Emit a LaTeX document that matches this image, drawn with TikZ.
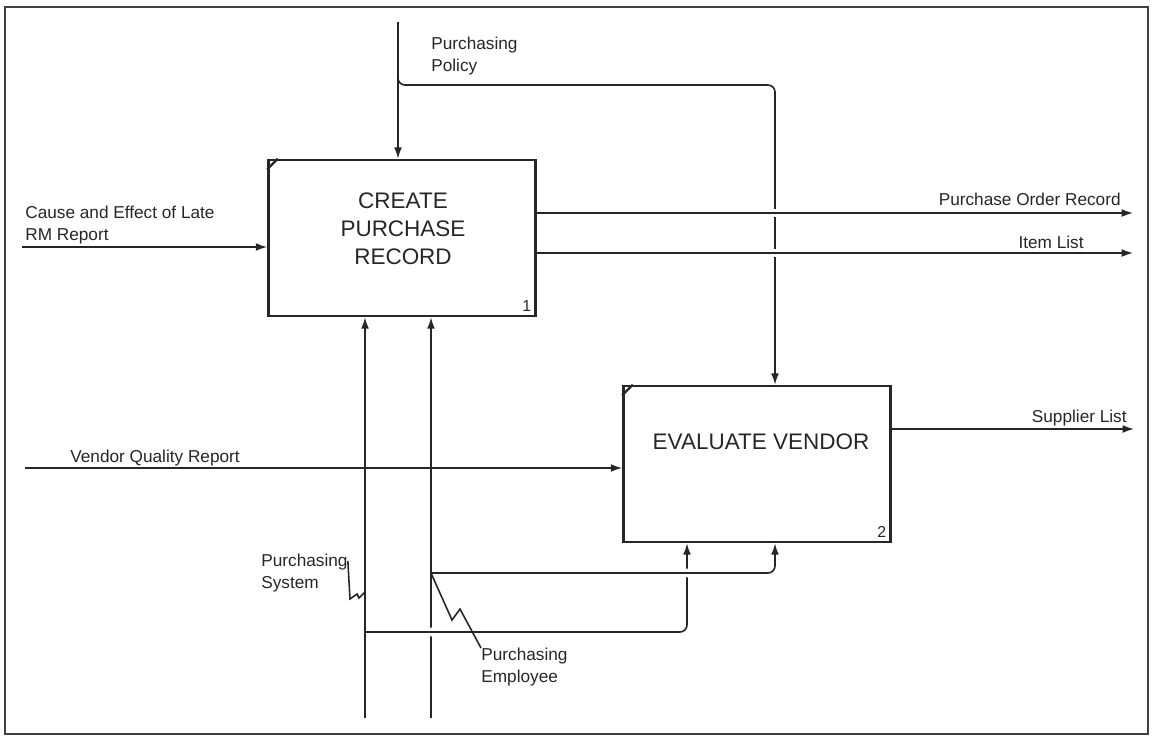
\documentclass[tikz,border=0pt]{standalone}
\usepackage{fontspec}
\setmainfont{Liberation Sans}
\usetikzlibrary{arrows.meta,positioning}

\begin{document}
\begin{tikzpicture}[x=0.02cm,y=-0.02cm,
  box/.style={draw=black!85,line width=1.5pt,minimum width=5.34cm,minimum height=3.12cm,inner sep=0pt},
  title/.style={font=\fontsize{12.8}{15.9}\selectfont,align=center,inner sep=0pt,text=black!85},
  lbl/.style={font=\fontsize{9.8}{12.2}\selectfont,align=left,inner sep=0pt,text=black!85},
  num/.style={font=\fontsize{9}{10}\selectfont,inner sep=3pt,anchor=south east,text=black!85},
  flow/.style={draw=black!85,line width=0.9pt,-{Latex[length=6.5pt,width=4.5pt]}},
  pipe/.style={draw=black!85,line width=0.9pt},
  bridge/.style={preaction={draw=white,line width=5pt,-,shorten <=4pt,shorten >=4pt}}]
\useasboundingbox (0,0) rectangle (1153,738);
\draw[black!75,line width=1pt] (5,7) rectangle (1148,734);

% activity boxes
\node[box] (1) at (402,238) {};
\node[box] (2) at (757,464) {};
\draw[black!85,line width=1.3pt] ([yshift=-6pt]1.north west) -- ([xshift=6pt]1.north west);
\draw[black!85,line width=1.3pt] ([yshift=-6pt]2.north west) -- ([xshift=6pt]2.north west);
\node[title] (t1) at (403,229) {CREATE\\PURCHASE\\RECORD};
\node[title] (t2) at (761,441.5) {EVALUATE VENDOR};
\node[num] (n1) at (1.south east) {1};
\node[num] (n2) at (2.south east) {2};

% end points
\coordinate (pol) at (398,22);
\coordinate (polsplit) at (398,78);
\coordinate (polturn) at (775,85);
\coordinate (cause) at (22,247);
\coordinate (por) at (1133,213);
\coordinate (il) at (1133,253);
\coordinate (vq) at (25,468);
\coordinate (sl) at (1134,429);
\coordinate (sys) at (365,718);
\coordinate (emp) at (431,718);
\coordinate (sysb) at (365,632);
\coordinate (systurn) at (687,632);
\coordinate (empb) at (431,573);
\coordinate (empturn) at (775,573);
\coordinate (syshit) at (365,592);

% control
\draw[flow] (pol) -- (pol |- 1.north);
\draw[flow,rounded corners=4pt] (polsplit) |- (polturn) -- (polturn |- 2.north);

% inputs and outputs
\draw[flow] (cause) -- (cause -| 1.west);
\draw[flow,bridge] (por -| 1.east) -- (por);
\draw[flow,bridge] (il -| 1.east) -- (il);
\draw[flow,bridge] (vq) -- (vq -| 2.west);
\draw[flow] (sl -| 2.east) -- (sl);

% mechanisms
\draw[flow] (sys) -- (sys |- 1.south);
\draw[flow] (emp) -- (emp |- 1.south);
\draw[flow,bridge,rounded corners=4pt] (sysb) -- (systurn) -- (systurn |- 2.south);
\draw[flow,bridge,rounded corners=4pt] (empb) -- (empturn) -- (empturn |- 2.south);

% labels
\node[lbl,anchor=north west] (lpol) at (431,37) {Purchasing\\Policy};
\node[lbl,anchor=north west] (lcause) at (25,206) {Cause and Effect of Late\\RM Report};
\node[lbl,anchor=base east] (lpor) at (1121,205) {Purchase Order Record};
\node[lbl,anchor=base east] (lil) at (1084,248) {Item List};
\node[lbl,anchor=base east] (lsl) at (1127,422) {Supplier List};
\node[lbl,anchor=base west] (lvq) at (70,462) {Vendor Quality Report};
\node[lbl,anchor=north west] (lsys) at (261,554) {Purchasing\\System};
\node[lbl,anchor=north west] (lemp) at (481,648) {Purchasing\\Employee};

% squiggles
\draw[pipe] (lsys.north east |- 0,561) -- (350,599) -- (357,594) -- (359,598) -- (syshit);
\draw[pipe] (empb) -- (452,620) -- (460,609) -- (lemp.north west);
\end{tikzpicture}
\end{document}
